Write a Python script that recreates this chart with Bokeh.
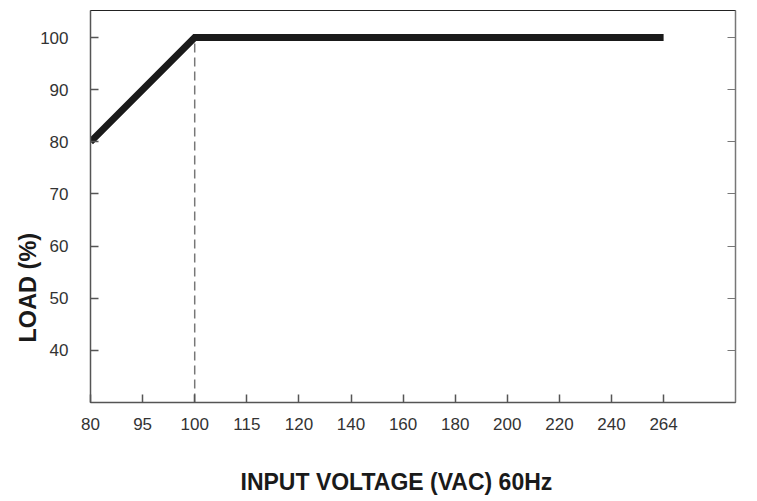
from bokeh.plotting import figure
from bokeh.models import Range1d, LinearAxis, FixedTicker, Title
from bokeh.embed import file_html
from bokeh.resources import INLINE

# Data
voltage_ticks = [80, 95, 100, 115, 120, 140, 160, 180, 200, 220, 240, 264]
load_ticks = [40, 50, 60, 70, 80, 90, 100]
derating_v = [80, 100, 264]
derating_load = [80, 100, 100]

pos = {v: i for i, v in enumerate(voltage_ticks)}
xs = [pos[v] for v in derating_v]

FONT = "Liberation Sans"

p = figure(frame_width=645, frame_height=392, output_backend="svg", toolbar_location=None,
           x_range=Range1d(0, 12.38), y_range=Range1d(30, 105.2),
           min_border_left=90, min_border_right=14, min_border_top=10, min_border_bottom=20)
p.grid.visible = False
p.outline_line_color = "#222222"
p.outline_line_width = 1

# Axes
xa = p.xaxis[0]
xa.ticker = FixedTicker(ticks=list(range(len(voltage_ticks))))
xa.major_label_overrides = {i: str(v) for i, v in enumerate(voltage_ticks)}
ya = p.yaxis[0]
ya.ticker = FixedTicker(ticks=load_ticks)
for ax in (xa, ya):
    ax.major_tick_in = 8
    ax.major_tick_out = 0
    ax.minor_tick_line_color = None
    ax.axis_line_color = "#555555"
    ax.axis_line_width = 1.5
    ax.major_tick_line_color = "#555555"
    ax.major_tick_line_width = 1.5
    ax.major_label_text_font = FONT
    ax.major_label_text_font_size = "17px"
    ax.major_label_text_color = "#333333"
xa.major_label_standoff = 15
ya.major_label_standoff = 22

ra = LinearAxis(ticker=FixedTicker(ticks=load_ticks))
ra.major_tick_in = 8
ra.major_tick_out = 0
ra.minor_tick_line_color = None
ra.axis_line_color = "#777777"
ra.axis_line_width = 1.5
ra.major_tick_line_color = "#777777"
ra.major_label_overrides = {t: "" for t in load_ticks}
ra.major_label_standoff = 0
p.add_layout(ra, "right")

# Dashed reference at breakpoint
p.segment(x0=[xs[1]], y0=[p.y_range.start], x1=[xs[1]], y1=[derating_load[1]],
          line_color="#777777", line_width=1.5, line_dash="9 5")

# Derating curve
p.line(xs, derating_load, line_color="#1a1a1a", line_width=7, line_join="miter")

# Axis titles
p.add_layout(Title(text="LOAD (%)", align="left", offset=60, standoff=-7,
                   text_font=FONT, text_font_size="23.5px", text_font_style="bold",
                   text_color="#1a1a1a"), "left")
p.add_layout(Title(text="INPUT VOLTAGE (VAC) 60Hz", align="left", offset=150, standoff=68,
                   text_font=FONT, text_font_size="23px", text_font_style="bold",
                   text_color="#1a1a1a"), "below")

open("out.html", "w").write(file_html(p, INLINE))
